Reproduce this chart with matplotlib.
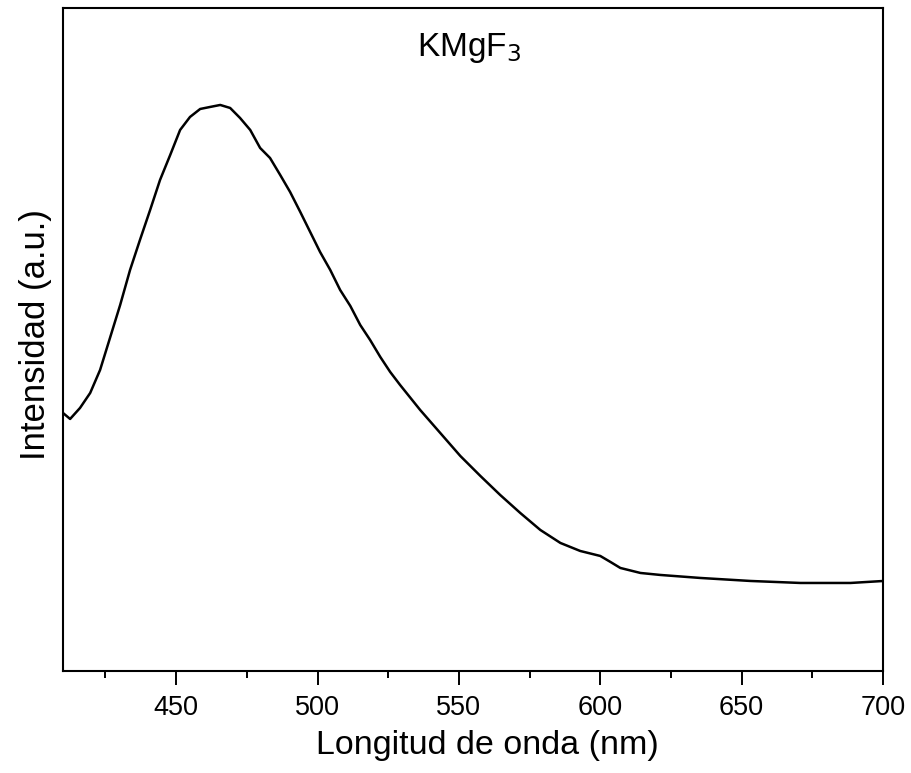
import numpy as np
import matplotlib
matplotlib.use('Agg')
import matplotlib.pyplot as plt
from matplotlib.ticker import MultipleLocator

plt.rcParams['font.family'] = ['Liberation Sans', 'DejaVu Sans']

# spectrum (arbitrary intensity units)
wavelength = [410.4, 412.5, 416.0, 419.6, 423.1, 426.6, 430.2, 433.7, 437.2, 440.8,
              444.3, 447.9, 451.4, 454.9, 458.5, 462.0, 465.6, 469.1, 472.6, 476.2,
              479.7, 483.2, 486.8, 490.3, 493.9, 497.4, 500.9, 504.5, 508.0, 511.6,
              515.1, 518.6, 522.2, 525.7, 529.2, 536.3, 543.4, 550.5, 557.6, 564.6,
              571.7, 578.8, 585.9, 592.9, 600.0, 603.6, 607.1, 614.2, 621.3, 635.4,
              653.1, 670.8, 688.5, 700.2]
intensity = [257, 252, 263, 278, 301, 333, 366, 401, 431, 461,
             491, 516, 541, 554, 562, 564, 566, 563, 553, 541,
             523, 513, 496, 479, 459, 439, 419, 401, 381, 365,
             346, 331, 314, 299, 286, 261, 238, 215, 195, 176,
             158, 141, 128, 120, 115, 109, 103, 98, 96, 93,
             90, 88, 88, 90]

fig = plt.figure(figsize=(9.11, 7.73), dpi=100)
ax = fig.add_axes([0.0692, 0.132, 0.9001, 0.8577])
ax.plot(wavelength, intensity, color='black', lw=1.8)

ax.set_xlim(410, 700)
ax.set_ylim(0, 663)
ax.xaxis.set_major_locator(MultipleLocator(50))
ax.xaxis.set_minor_locator(MultipleLocator(25))
ax.set_yticks([])
ax.tick_params(axis='x', which='major', length=10, width=1.4, labelsize=19.5, pad=7)
ax.tick_params(axis='x', which='minor', length=5, width=1.4)
for s in ax.spines.values():
    s.set_linewidth(1.5)

ax.set_xlabel('Longitud de onda (nm)', fontsize=24.5, labelpad=7)
ax.xaxis.label.set_x(0.518)
ax.set_ylabel('Intensidad (a.u.)', fontsize=25, labelpad=8)
ax.yaxis.label.set_y(0.508)
ax.text(0.495, 0.94, 'KMgF$_3$', transform=ax.transAxes, ha='center', va='center', fontsize=24)

fig.savefig('out.png', dpi=100)
